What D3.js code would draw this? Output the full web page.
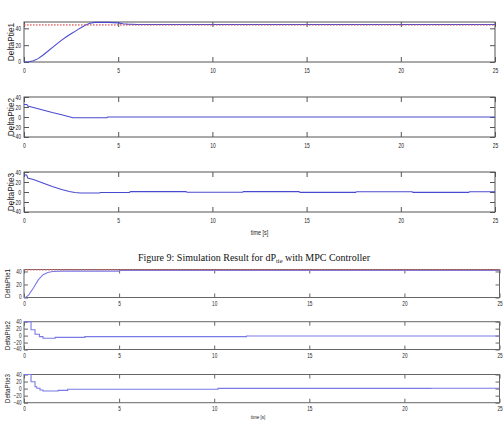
<!DOCTYPE html>
<html><head><meta charset="utf-8">
<script src="https://cdn.jsdelivr.net/npm/d3@7"></script>
<style>body{margin:0;background:#fff}svg{display:block}</style>
</head><body>
<svg id="c" width="504" height="431"></svg>
<script>
// ---------- DATA ----------
const timeTicks = [0, 5, 10, 15, 20, 25];
const yTicksPtie1 = [0, 20, 40];
const yTicksPtie23 = [-40, -20, 0, 20, 40];
const panelNames = ["DeltaPtie1", "DeltaPtie2", "DeltaPtie3"];
const xLabel = "time [s]";
const titleMain = "Figure 9: Simulation Result for dP";
const titleSub = "tie";
const titleEnd = " with MPC Controller";

// Figure 1 (upper chart)
const f1TimePtie1 = [0,0.25,0.5,0.75,1,1.25,1.5,1.75,2,2.25,2.5,2.75,3,3.25,3.5,3.75,4,4.5,5,5.25,5.5,6,25];
const f1ValPtie1  = [0,0.3,1.5,4,8,12.5,17,21.5,26,30,33.5,37,40.5,43.5,46,47,47.2,47,46.5,45.5,45,44.5,44.5];
const f1RefTime = [0, 25];
const f1RefVal = [44, 44];
const f1TimePtie2 = [0,0.15,0.2,0.5,1,1.5,2,2.3,2.6,4.4,4.45,25];
const f1ValPtie2  = [25,25,22,19,14,9,4.5,1.5,-1.5,-1.5,0,0];
const f1TimePtie3 = [0,0.14,0.2,0.5,1,1.5,2,2.4,2.7,3,4,4.05,5.6,5.65,8.6,8.65,11.6,11.65,14.6,14.65,17.6,17.65,20.6,20.65,23.6,23.65,25];
const f1ValPtie3  = [34,34,28,25,18,11,5,1,-1,-2,-2,-1,-1,0.8,0.8,-0.4,-0.4,0.8,0.8,-0.8,-0.8,0.6,0.6,-0.8,-0.8,0.6,0.6];

// Figure 2 (lower chart, MPC)
const f2TimePtie1 = [0,0.1,0.25,0.5,0.75,1,1.25,1.5,2,5,5.05,25];
const f2ValPtie1  = [0,0.5,4,15,27,35,38.5,40,40.5,40.5,41.5,41.5];
const f2RefTime = [0, 25];
const f2RefVal = [42.5, 42.5];
const f2TimePtie2 = [0,0.37,0.58,0.81,1.0,1.64,3.2,11.7,25];
const f2ValPtie2  = [40,17,4,-3,-7.5,-5,-3,-1,-1];
const f2TimePtie3 = [0,0.37,0.58,0.67,0.84,1.0,1.8,2.3,10.2,21.4,25];
const f2ValPtie3  = [40,19.6,5.4,1,-4,-7,-5,-2,0.5,1,1];

// ---------- DRAW ----------
const svg = d3.select("#c");
svg.append("rect").attr("width",504).attr("height",431).attr("fill","#fff");
const SANS = "Liberation Sans, Arial, sans-serif";

function zip(t, v){ return t.map((d,i)=>({t:d, v:v[i]})); }
function condense(sel, k){
  sel.each(function(){
    const w = this.getComputedTextLength();
    if (w > 0) d3.select(this).attr("textLength", w*k).attr("lengthAdjust","spacingAndGlyphs");
  });
}

function panel(o){
  const g = svg.append("g");
  const x = d3.scaleLinear().domain([0,25]).range([o.x0, o.x1]);
  const y = d3.scaleLinear().domain(o.dom).range([o.y1, o.y0]);
  const tk = o.tick;
  g.append("rect").attr("x",o.x0).attr("y",o.y0).attr("width",o.x1-o.x0).attr("height",o.y1-o.y0)
    .attr("fill","none").attr("stroke",o.frame).attr("stroke-width",1);
  const ax = d3.axisBottom(x).tickValues(timeTicks).tickSize(-tk).tickPadding(o.xpad).tickFormat(d3.format("d"));
  const gx = g.append("g").attr("transform",`translate(0,${o.y1})`).call(ax);
  const axT = d3.axisTop(x).tickValues(timeTicks).tickSize(-tk).tickFormat("");
  const gxt = g.append("g").attr("transform",`translate(0,${o.y0})`).call(axT);
  const ay = d3.axisLeft(y).tickValues(o.yt).tickSize(-tk).tickPadding(o.ypad).tickFormat(d3.format("d"));
  const gy = g.append("g").attr("transform",`translate(${o.x0},0)`).call(ay);
  const ayR = d3.axisRight(y).tickValues(o.yt).tickSize(-tk).tickFormat("");
  const gyr = g.append("g").attr("transform",`translate(${o.x1},0)`).call(ayR);
  [gx,gxt,gy,gyr].forEach(a=>{
    a.select(".domain").remove();
    a.selectAll(".tick line").attr("stroke",o.tickCol).attr("stroke-width",1);
    a.selectAll("text").attr("font-family",SANS).attr("font-size",o.fs).attr("fill","#222");
  });
  // lowest y label sits just above the corner, as in the reference
  gy.selectAll(".tick text").filter(d=>d===o.dom[0]).attr("dy","0.2em");
  condense(gx.selectAll("text"), o.cond);
  condense(gy.selectAll("text"), o.cond);
  if(o.ref){
    g.append("path").datum(o.ref)
      .attr("d", d3.line().x(d=>x(d.t)).y(d=>y(d.v)))
      .attr("fill","none").attr("stroke","#e06060").attr("stroke-width",1).attr("stroke-dasharray","1.5,1.5");
  }
  g.append("path").datum(o.data)
    .attr("d", d3.line().curve(o.curve).x(d=>x(d.t)).y(d=>y(d.v)))
    .attr("fill","none").attr("stroke",o.col).attr("stroke-width",o.lw);
  if(o.ref){
    g.append("path").datum(o.ref)
      .attr("d", d3.line().x(d=>x(d.t)).y(d=>y(d.v)))
      .attr("fill","none").attr("stroke","#e06060").attr("stroke-width",1).attr("stroke-dasharray","1.5,1.5").attr("opacity",0.7);
  }
  g.append("text").attr("transform",`translate(${o.lx},${(o.y0+o.y1)/2}) rotate(-90)`)
    .attr("text-anchor","middle").attr("dominant-baseline","central")
    .attr("font-family",SANS).attr("font-size",o.lfs).attr("fill","#222")
    .text(o.label);
}

const f1 = {x0:24, x1:495, tick:5, frame:"#555", tickCol:"#555", fs:8, cond:0.62, lfs:8.3, xpad:5.5, ypad:3, lx:10.5, col:"#4a4ad0", lw:1.1};
panel(Object.assign({}, f1, {y0:22, y1:62, dom:[0,47.5], yt:yTicksPtie1, label:panelNames[0],
  data:zip(f1TimePtie1,f1ValPtie1), ref:zip(f1RefTime,f1RefVal), curve:d3.curveLinear}));
panel(Object.assign({}, f1, {y0:97, y1:137, dom:[-40,40], yt:yTicksPtie23, label:panelNames[1],
  data:zip(f1TimePtie2,f1ValPtie2), curve:d3.curveLinear}));
panel(Object.assign({}, f1, {y0:172, y1:212, dom:[-40,40], yt:yTicksPtie23, label:panelNames[2],
  data:zip(f1TimePtie3,f1ValPtie3), curve:d3.curveLinear}));
const t1 = svg.append("text").attr("x",259.5).attr("y",235).attr("text-anchor","middle")
  .attr("font-family",SANS).attr("font-size",7.5).attr("fill","#222").text(xLabel);
condense(t1, 0.72);

const tt = svg.append("text").attr("x",254).attr("y",261).attr("text-anchor","middle")
  .attr("font-family","Liberation Serif, DejaVu Serif, serif").attr("font-size",10).attr("fill","#111");
tt.append("tspan").text(titleMain);
tt.append("tspan").attr("font-size",6.5).attr("dy",2).text(titleSub);
tt.append("tspan").attr("dy",-2).text(titleEnd);

const f2 = {x0:24, x1:499.5, tick:4, frame:"#666", tickCol:"#666", fs:6.5, cond:0.72, lfs:6.3, xpad:3.5, ypad:2.5, lx:7, col:"#7a7ae6", lw:1.1};
panel(Object.assign({}, f2, {y0:269.5, y1:297.5, dom:[0,43], yt:yTicksPtie1, label:panelNames[0],
  data:zip(f2TimePtie1,f2ValPtie1), ref:zip(f2RefTime,f2RefVal), curve:d3.curveLinear}));
panel(Object.assign({}, f2, {y0:321.7, y1:349.5, dom:[-40,40], yt:yTicksPtie23, label:panelNames[1],
  data:zip(f2TimePtie2,f2ValPtie2), curve:d3.curveStepAfter}));
panel(Object.assign({}, f2, {y0:374.5, y1:402.7, dom:[-40,40], yt:yTicksPtie23, label:panelNames[2],
  data:zip(f2TimePtie3,f2ValPtie3), curve:d3.curveStepAfter}));
const t2 = svg.append("text").attr("x",258).attr("y",419).attr("text-anchor","middle")
  .attr("font-family",SANS).attr("font-size",6).attr("fill","#222").text(xLabel);
condense(t2, 0.75);
</script>
</body></html>
